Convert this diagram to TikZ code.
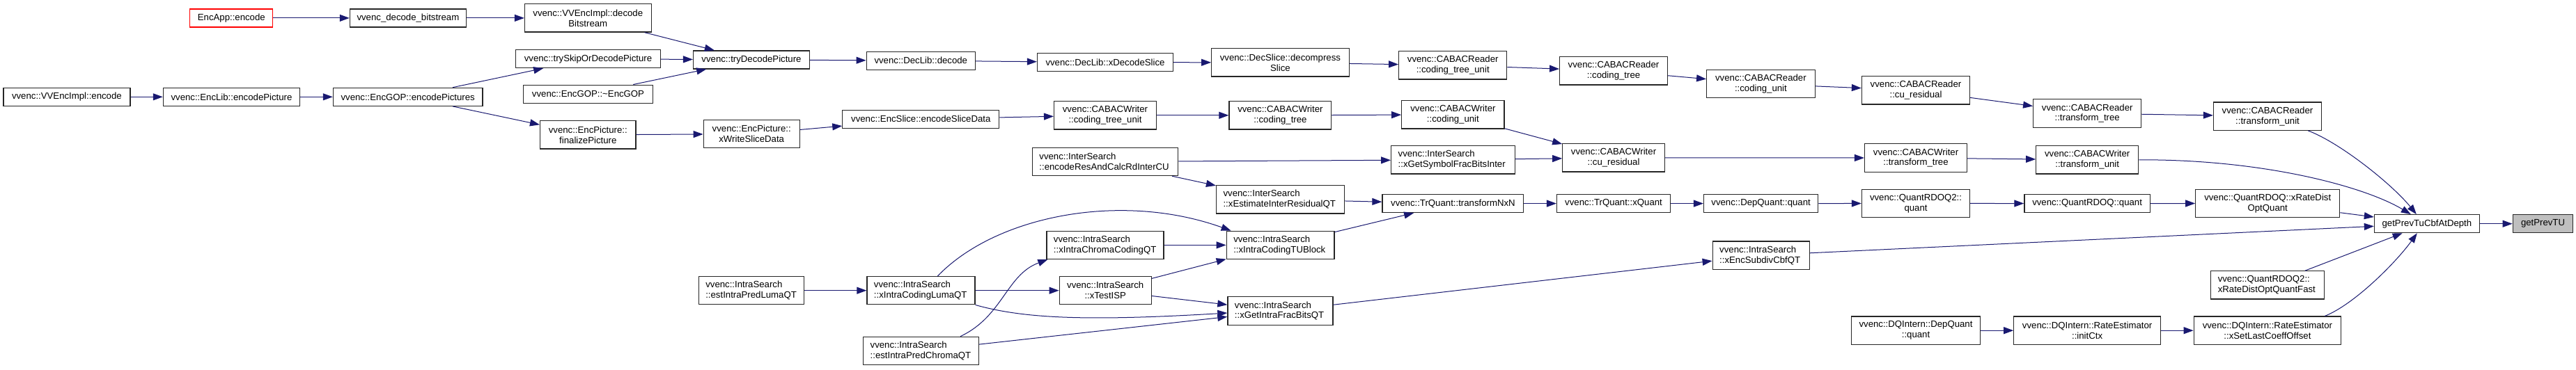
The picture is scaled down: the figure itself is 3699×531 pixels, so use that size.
\documentclass[tikz,border=0pt]{standalone}
\usepackage{fontspec}
\setmainfont{Liberation Sans}
\usetikzlibrary{arrows.meta,calc}
\definecolor{edgeblue}{RGB}{25,25,112}
\definecolor{focusgray}{RGB}{191,191,191}
\newcommand{\lblfont}{\fontsize{13.2}{14.9}\selectfont}
\tikzset{
  box/.style={draw=black!85, line width=1.2pt, fill=white, inner xsep=10pt, inner ysep=0pt, font=\lblfont, align=center},
  one/.style={minimum height=26pt},
  two/.style={minimum height=40.3pt},
  lft/.style={align=left},
  link/.style={draw=edgeblue, line width=1pt, -{Triangle[length=14pt,width=10pt]}},
}
\begin{document}
\begin{tikzpicture}[x=1pt,y=-1pt]
\fill[white] (0,0) rectangle (3699,531);
\useasboundingbox (0,0) rectangle (3699,531);

% column 0-2
\node[box,one,minimum width=119.1pt,draw=red] (encapp) at (332.3,25.9) {EncApp::encode};
\node[box,one,minimum width=167pt] (decbits) at (585.9,25.9) {vvenc\_decode\_bitstream};
\node[box,one,minimum width=182pt] (vvimplenc) at (95.9,139.3) {vvenc::VVEncImpl::encode};
\node[box,one,minimum width=196.3pt] (enclib) at (332.5,139.3) {vvenc::EncLib::encodePicture};
\node[box,one,minimum width=214.6pt] (encgop) at (585.7,139.3) {vvenc::EncGOP::encodePictures};

% column 3
\node[box,two,minimum width=181.6pt] (decbs2) at (844.3,25.9) {vvenc::VVEncImpl::decode\\Bitstream};
\node[box,one,minimum width=207.4pt] (tryskip) at (844.5,84.6) {vvenc::trySkipOrDecodePicture};
\node[box,one,minimum width=185.3pt] (dgop) at (844.5,135.1) {vvenc::EncGOP::\textasciitilde EncGOP};
\node[box,two,minimum width=137.5pt] (finpic) at (844.3,193.9) {vvenc::EncPicture::\\finalizePicture};

% column 4
\node[box,one,minimum width=166.9pt] (trydec) at (1079,85.9) {vvenc::tryDecodePicture};
\node[box,two,minimum width=138pt] (wslice) at (1079.2,192.6) {vvenc::EncPicture::\\xWriteSliceData};
\node[box,two,lft,text width=131.4pt] (estluma) at (1079,417.7) {vvenc::IntraSearch\\::estIntraPredLumaQT};

% column 5
\node[box,one,minimum width=156.3pt] (declib) at (1322.3,87.2) {vvenc::DecLib::decode};
\node[box,one,minimum width=224.9pt] (encslice) at (1322.3,171.2) {vvenc::EncSlice::encodeSliceData};
\node[box,two,lft,text width=135.1pt] (lumaqt) at (1322.5,417.7) {vvenc::IntraSearch\\::xIntraCodingLumaQT};
\node[box,two,lft,text width=145.7pt] (estchroma) at (1322.5,504.4) {vvenc::IntraSearch\\::estIntraPredChromaQT};

% column 6
\node[box,one,minimum width=195.1pt] (xdecslice) at (1587,89.6) {vvenc::DecLib::xDecodeSlice};
\node[box,two,minimum width=146.9pt] (wctu) at (1587,165.8) {vvenc::CABACWriter\\::coding\_tree\_unit};
\node[box,two,lft,text width=189.4pt] (interenc) at (1587.1,232.5) {vvenc::InterSearch\\::encodeResAndCalcRdInterCU};
\node[box,two,lft,text width=148.1pt] (xchroma) at (1587,352.4) {vvenc::IntraSearch\\::xIntraChromaCodingQT};
\node[box,two,minimum width=131.9pt] (testisp) at (1587.2,417.7) {vvenc::IntraSearch\\::xTestISP};

% column 7
\node[box,two,minimum width=197.5pt] (decomp) at (1838.4,89.9) {vvenc::DecSlice::decompress\\Slice};
\node[box,two,minimum width=146.9pt] (wct) at (1838.4,165.8) {vvenc::CABACWriter\\::coding\_tree};
\node[box,two,lft,text width=164.1pt] (xestinter) at (1838.6,286.8) {vvenc::InterSearch\\::xEstimateInterResidualQT};
\node[box,two,lft,text width=134.7pt] (tublock) at (1838.6,352.4) {vvenc::IntraSearch\\::xIntraCodingTUBlock};
\node[box,two,lft,text width=131pt] (fracbits) at (1838.4,447) {vvenc::IntraSearch\\::xGetIntraFracBitsQT};

% column 8
\node[box,two,minimum width=155.1pt] (rctu) at (2086.2,93.8) {vvenc::CABACReader\\::coding\_tree\_unit};
\node[box,two,minimum width=147.3pt] (wcu) at (2086.4,164.8) {vvenc::CABACWriter\\::coding\_unit};
\node[box,two,lft,text width=157.5pt] (symfrac) at (2086.4,229.8) {vvenc::InterSearch\\::xGetSymbolFracBitsInter};
\node[box,one,minimum width=202.9pt] (tnxn) at (2086.4,292.6) {vvenc::TrQuant::transformNxN};

% column 9
\node[box,two,minimum width=154.7pt] (rct) at (2317,101.8) {vvenc::CABACReader\\::coding\_tree};
\node[box,two,minimum width=146.5pt] (wcures) at (2317,226.9) {vvenc::CABACWriter\\::cu\_residual};
\node[box,one,minimum width=162.9pt] (xquant) at (2317,292.6) {vvenc::TrQuant::xQuant};

% column 10
\node[box,two,minimum width=155.5pt] (rcu) at (2528.4,120.6) {vvenc::CABACReader\\::coding\_unit};
\node[box,one,minimum width=164.1pt] (depq) at (2528.6,292.6) {vvenc::DepQuant::quant};
\node[box,two,lft,text width=119.2pt] (subdiv) at (2528.8,367.1) {vvenc::IntraSearch\\::xEncSubdivCbfQT};

% column 11
\node[box,two,minimum width=155.1pt] (rcures) at (2751,129.9) {vvenc::CABACReader\\::cu\_residual};
\node[box,two,minimum width=146.9pt] (wtt) at (2751,227) {vvenc::CABACWriter\\::transform\_tree};
\node[box,two,minimum width=155.1pt] (rdoq2q) at (2751,292.4) {vvenc::QuantRDOQ2::\\quant};
\node[box,two,minimum width=185.3pt] (dqdep) at (2751,475.2) {vvenc::DQIntern::DepQuant\\::quant};

% column 12
\node[box,two,minimum width=155.1pt] (rtt) at (2997.2,163) {vvenc::CABACReader\\::transform\_tree};
\node[box,two,minimum width=146.9pt] (wtu) at (2997.2,229.8) {vvenc::CABACWriter\\::transform\_unit};
\node[box,one,minimum width=180.4pt] (rdoqq) at (2997.1,292.6) {vvenc::QuantRDOQ::quant};
\node[box,two,minimum width=210.6pt] (initctx) at (2997.1,475.2) {vvenc::DQIntern::RateEstimator\\::initCtx};

% column 13
\node[box,two,minimum width=155.1pt] (rtu) at (3256,167.1) {vvenc::CABACReader\\::transform\_unit};
\node[box,two,minimum width=206.9pt] (rdoqopt) at (3256.2,292.4) {vvenc::QuantRDOQ::xRateDist\\OptQuant};
\node[box,two,lft,text width=142.9pt] (rdoqfast) at (3256.2,409.9) {vvenc::QuantRDOQ2::\\xRateDistOptQuantFast};
\node[box,two,minimum width=211.4pt] (lastcoeff) at (3255.9,475.2) {vvenc::DQIntern::RateEstimator\\::xSetLastCoeffOffset};

% columns 14-15
\node[box,one,minimum width=151pt] (gptcd) at (3484.9,321.7) {getPrevTuCbfAtDepth};
\node[box,one,minimum width=86.5pt,fill=focusgray] (gptu) at (3651.5,321.7) {getPrevTU};

% straight connectors
\draw[link] (encapp) -- (decbits);
\draw[link] (decbits) -- (decbs2);
\draw[link] (decbs2) -- (trydec);
\draw[link] (tryskip) -- (trydec);
\draw[link] (dgop) -- (trydec);
\draw[link] (trydec) -- (declib);
\draw[link] (declib) -- (xdecslice);
\draw[link] (xdecslice) -- (decomp);
\draw[link] (decomp) -- (rctu);
\draw[link] (rctu) -- (rct);
\draw[link] (rct) -- (rcu);
\draw[link] (rcu) -- (rcures);
\draw[link] (rcures) -- (rtt);
\draw[link] (rtt) -- (rtu);
\draw[link] (vvimplenc) -- (enclib);
\draw[link] (enclib) -- (encgop);
\draw[link] (encgop) -- (tryskip);
\draw[link] (encgop) -- (finpic);
\draw[link] (finpic) -- (wslice);
\draw[link] (wslice) -- (encslice);
\draw[link] (encslice) -- (wctu);
\draw[link] (wctu) -- (wct);
\draw[link] (wct) -- (wcu);
\draw[link] (wcu) -- (wcures);
\draw[link] (interenc) -- (symfrac);
\draw[link] (symfrac) -- (wcures);
\draw[link] (wcures) -- (wtt);
\draw[link] (wtt) -- (wtu);
\draw[link] (interenc) -- (xestinter);
\draw[link] (xestinter) -- (tnxn);
\draw[link] (tnxn) -- (xquant);
\draw[link] (xquant) -- (depq);
\draw[link] (depq) -- (rdoq2q);
\draw[link] (rdoq2q) -- (rdoqq);
\draw[link] (rdoqq) -- (rdoqopt);
\draw[link] (rdoqopt) -- (gptcd);
\draw[link] (tublock) -- (tnxn);
\draw[link] (fracbits) -- (subdiv);
\draw[link] (subdiv) -- (gptcd);
\draw[link] (rdoqfast) -- (gptcd);
\draw[link] (dqdep) -- (initctx);
\draw[link] (initctx) -- (lastcoeff);
\draw[link] (gptcd) -- (gptu);
\draw[link] (estluma) -- (lumaqt);
\draw[link] (xchroma) -- (tublock);
\draw[link] (testisp) -- (tublock);
\draw[link] (lumaqt) -- (testisp);
\draw[link] (testisp) -- (fracbits);
\draw[link] (estchroma) -- (fracbits);

% curved connectors
\draw[link] ($(rtu.south east)+(-20,0)$) .. controls (3360,205) and (3435,265) .. ($(gptcd.north west)+(61,0)$);
\draw[link] (wtu.east) .. controls (3250,229) and (3395,268) .. ($(gptcd.north west)+(53,0)$);
\draw[link] ($(lastcoeff.north east)+(-24,0)$) .. controls (3380,438) and (3440,378) .. ($(gptcd.south west)+(62,0)$);
\draw[link] ($(lumaqt.north west)+(102,0)$) .. controls (1430,310) and (1610,275) .. ($(tublock.north west)+(7,0)$);
\draw[link] (lumaqt.south east) .. controls (1470,458) and (1560,462) .. ($(fracbits.west)+(0,3)$);
\draw[link] ($(estchroma.north west)+(140,0)$) .. controls (1440,455) and (1445,395) .. ($(xchroma.south west)+(2,0)$);
\end{tikzpicture}
\end{document}
